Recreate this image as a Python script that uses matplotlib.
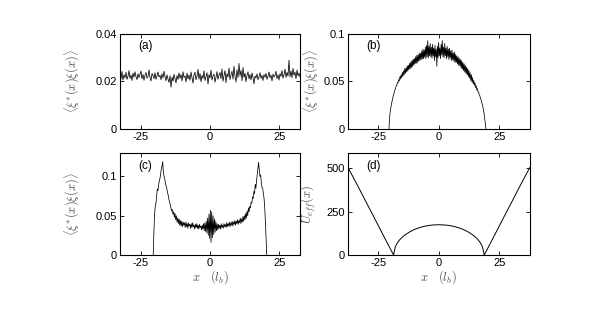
import numpy as np
import matplotlib
matplotlib.use('Agg')
from matplotlib import pyplot as plt

# ---- data ----
# (a) uniform case, values in units of 1e-3, sampled across the box
rho_a = [23.1, 21.0, 24.2, 20.6, 22.8, 21.5, 23.9, 20.9, 22.2, 24.6, 21.3, 22.7, 20.4, 23.5, 21.8, 24.1, 22.0, 20.8, 23.3, 21.6,
         22.9, 24.4, 21.1, 23.0, 20.5, 22.6, 23.8, 21.4, 22.1, 24.9, 21.7, 20.2, 23.4, 22.5, 21.2, 23.7, 20.9, 22.4, 24.0, 21.9,
         22.6, 20.7, 23.2, 21.5, 24.3, 22.1, 20.3, 22.8, 21.0, 19.6, 22.4, 17.6, 21.8, 20.1, 23.0, 21.2, 19.4, 22.5, 20.8, 23.6,
         21.4, 22.9, 20.2, 24.1, 21.7, 22.3, 19.8, 23.5, 21.1, 22.7, 20.5, 24.0, 21.6, 19.3, 22.8, 23.9, 20.7, 22.2, 25.1, 21.0,
         23.4, 19.9, 22.6, 21.3, 24.5, 20.4, 22.1, 23.7, 18.9, 22.9, 21.5, 24.8, 20.6, 22.4, 23.1, 19.7, 21.8, 24.2, 20.9, 22.7,
         23.8, 21.2, 25.3, 20.1, 22.5, 24.6, 19.5, 23.3, 21.9, 25.7, 20.8, 22.8, 24.3, 21.0, 26.4, 22.2, 19.8, 24.9, 21.6, 27.6,
         22.4, 24.7, 20.3, 25.9, 21.7, 23.5, 19.9, 22.6, 24.1, 21.1, 22.9, 20.6, 23.6, 21.8, 19.0, 22.3, 21.5, 23.2, 20.7, 22.0,
         23.7, 21.3, 22.6, 20.4, 22.9, 21.8, 23.4, 20.9, 22.2, 24.0, 21.5, 22.7, 20.2, 23.1, 21.9, 22.5, 24.3, 21.2, 22.8, 20.6,
         23.3, 22.1, 24.6, 21.4, 22.9, 25.2, 21.7, 23.8, 22.3, 29.0, 22.0, 24.4, 21.6, 25.5, 22.7, 23.9, 21.2, 24.8, 22.4, 23.5,
         21.9]
xa_range = (-32.5, 32.5)

# (b) trapped case, 1e-3
rho_b = [0, 12, 18, 22, 26, 29, 32, 34.5, 37, 39, 41.5, 43, 45.5, 46, 49, 48.5, 52, 50.5, 55, 52.5,
         57, 54, 59.5, 55.5, 61, 57, 63.5, 58.5, 64, 60, 66.5, 61, 67, 62.5, 69, 63.5, 70.5, 64.5, 72, 66,
         73.5, 67, 74, 68.5, 76, 69, 77.5, 70, 78, 71.5, 80, 72, 79.5, 73, 82, 73.5, 84, 74, 83, 75.5,
         86, 74, 88, 76, 93, 75, 87, 77, 90, 76, 86, 74.5, 89, 77, 85, 72, 88, 76, 84, 66,
         87, 75, 91, 77, 85, 74, 89, 78, 93, 76, 86, 75, 90, 77, 85, 74, 87, 76, 84, 73,
         85, 75, 82, 72, 83, 73, 80, 71.5, 81, 70, 78.5, 70, 77, 68.5, 76, 67, 74.5, 66.5, 73, 64,
         72, 63, 70, 61.5, 68.5, 60, 67, 58.5, 65, 57, 63.5, 55, 61.5, 53.5, 59, 51, 57, 49.5, 54, 47.5,
         51, 46, 48.5, 43.5, 45.5, 41, 42.5, 39, 39, 35.5, 35, 32, 31, 28, 26, 23, 20, 16, 11, 6,
         0]
xb_range = (-20.6, 19.4)

# (c) double peaked case, 1e-3
rho_c = [0, 30, 52, 62, 66, 75, 84, 82, 90, 94, 98, 104, 110, 114, 119, 104, 100, 97, 91, 88,
         84, 80, 76, 71, 68, 64, 60, 56, 58, 52, 55, 48, 53, 45, 50, 42, 47, 40, 46, 38,
         44, 37, 43, 36, 42, 38, 41, 35, 42, 36, 40, 34, 41, 37, 39, 34, 40, 35, 41, 36,
         38, 33, 39, 35, 40, 34, 38, 33, 39, 35, 37, 32, 38, 33, 40, 31, 41, 30, 43, 28,
         47, 25, 52, 21, 57, 16, 55, 22, 50, 26, 46, 29, 43, 31, 40, 32, 39, 34, 38, 33,
         40, 35, 38, 34, 40, 36, 39, 35, 41, 36, 40, 37, 42, 36, 41, 38, 43, 37, 42, 39,
         44, 38, 43, 40, 45, 39, 44, 41, 47, 40, 46, 42, 49, 43, 50, 45, 53, 47, 56, 50,
         60, 55, 62, 60, 67, 66, 74, 72, 81, 78, 90, 85, 95, 103, 110, 118, 108, 100, 102, 92,
         86, 85, 78, 72, 60, 42, 20, 0]
xc_range = (-20.5, 20.5)

# (d) effective potential
x_d = [-37.5, -35, -32.5, -30, -27.5, -25, -22.5, -20, -18.7, -18, -17, -16, -15, -14, -12, -10, -8, -6, -4, -2,
       0, 2, 4, 6, 8, 10, 12, 14, 15, 16, 17, 18, 18.7, 20, 22.5, 25, 27.5, 30, 32.5, 35, 37.5]
u_d = [505, 440, 373, 305, 238, 170, 102, 35, 0, 47, 73, 91, 104.5, 116, 134, 148, 158, 166, 171, 174,
       175, 174, 171, 166, 158, 148, 134, 116, 104.5, 91, 73, 47, 0, 35, 102, 170, 238, 305, 373, 440, 505]

rho_ylabel = r'$\langle\xi^{*}(x)\xi(x)\rangle$'
x_label = r'$x\quad(l_b)$'

plt.rcParams['font.family'] = ['Liberation Sans', 'DejaVu Sans']
plt.rcParams['mathtext.fontset'] = 'cm'

fig = plt.figure(figsize=(6, 3.36), dpi=100)
ax_a = fig.add_axes([0.200, 0.616, 0.300, 0.283])
ax_b = fig.add_axes([0.580, 0.616, 0.303, 0.283])
ax_c = fig.add_axes([0.200, 0.241, 0.300, 0.304])
ax_d = fig.add_axes([0.580, 0.241, 0.303, 0.304])


def style(ax, tag, xlim, ylim, yticks, yticklabels, ylabel, ylabel_x):
    ax.set_xlim(*xlim)
    ax.set_ylim(*ylim)
    ax.set_xticks([-25, 0, 25], ['-25', '0', '25'])
    ax.set_yticks(yticks, yticklabels)
    ax.tick_params(direction='in', top=True, right=True, length=3, width=0.6,
                   labelsize=8, pad=2)
    for sp in ax.spines.values():
        sp.set_linewidth(0.8)
    ax.set_ylabel(ylabel, fontsize=9, color='0.3')
    ax.yaxis.set_label_coords(ylabel_x, 0.5)
    ax.text(0.1, 0.87, tag, transform=ax.transAxes, fontsize=8.5, va='center')


def draw(ax, values, xr, scale):
    x = np.linspace(xr[0], xr[1], len(values))
    ax.plot(x, np.array(values) * scale, color='k', lw=0.55)


draw(ax_a, rho_a, xa_range, 1e-3)
draw(ax_b, rho_b, xb_range, 1e-3)
draw(ax_c, rho_c, xc_range, 1e-3)
ax_d.plot(x_d, u_d, color='k', lw=0.7)

style(ax_a, '(a)', (-32.5, 32.5), (0, 0.04), [0, 0.02, 0.04], ['0', '0.02', '0.04'], rho_ylabel, -0.21)
style(ax_b, '(b)', (-37.5, 37.5), (0, 0.1), [0, 0.05, 0.1], ['0', '0.05', '0.1'], rho_ylabel, -0.15)
style(ax_c, '(c)', (-32.5, 32.5), (0, 0.13), [0, 0.05, 0.1], ['0', '0.05', '0.1'], rho_ylabel, -0.21)
style(ax_d, '(d)', (-37.5, 37.5), (0, 590), [0, 250, 500], ['0', '250', '500'], r'$U_{eff}(x)$', -0.165)

for ax in (ax_c, ax_d):
    ax.set_xlabel(x_label, fontsize=9, color='0.3')
    ax.xaxis.set_label_coords(0.5, -0.13)

fig.savefig('out.png', dpi=100)
